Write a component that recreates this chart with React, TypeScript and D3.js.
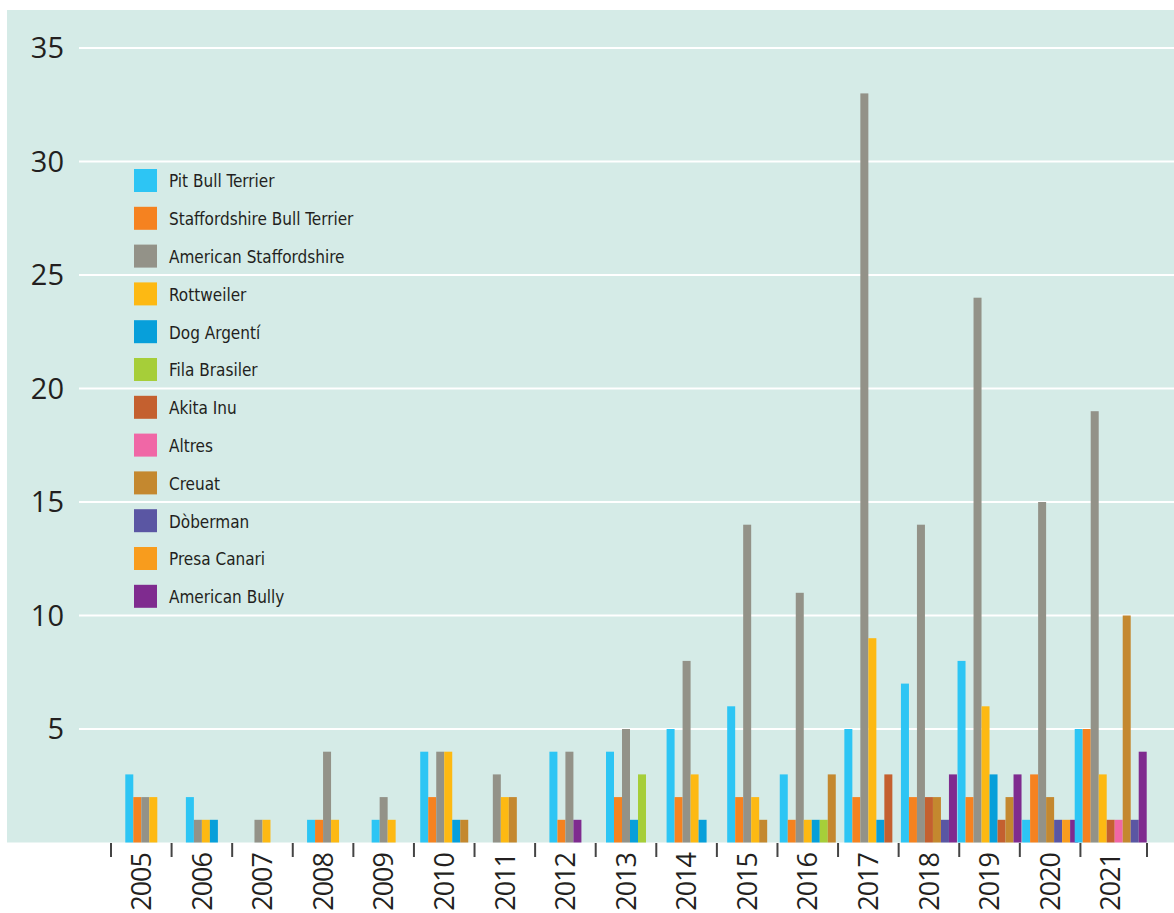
import { useEffect, useRef } from 'react';
import * as d3 from 'd3';

// Years on the x axis
const years = ['2005', '2006', '2007', '2008', '2009', '2010', '2011', '2012', '2013',
    '2014', '2015', '2016', '2017', '2018', '2019', '2020', '2021'];

const breeds = ['Pit Bull Terrier', 'Staffordshire Bull Terrier', 'American Staffordshire',
    'Rottweiler', 'Dog Argentí', 'Fila Brasiler', 'Akita Inu', 'Altres', 'Creuat',
    'Dòberman', 'Presa Canari', 'American Bully'];

const breedColors = ['#2dc5f4', '#f58220', '#939288', '#fdb913', '#079fda', '#a6ce39',
    '#c4602f', '#f067a6', '#c4882f', '#5a56a3', '#f89c1d', '#7f2b8f'];

// one array per breed, one value per year
const pitBull = [3, 2, 0, 1, 1, 4, 0, 4, 4, 5, 6, 3, 5, 7, 8, 1, 5];
const staffordshire = [2, 0, 0, 1, 0, 2, 0, 1, 2, 2, 2, 1, 2, 2, 2, 3, 5];
const amStaff = [2, 1, 1, 4, 2, 4, 3, 4, 5, 8, 14, 11, 33, 14, 24, 15, 19];
const rottweiler = [2, 1, 1, 1, 1, 4, 2, 0, 0, 3, 2, 1, 9, 0, 6, 0, 3];
const dogArgenti = [0, 1, 0, 0, 0, 1, 0, 0, 1, 1, 0, 1, 1, 0, 3, 0, 0];
const filaBrasiler = [0, 0, 0, 0, 0, 0, 0, 0, 3, 0, 0, 1, 0, 0, 0, 0, 0];
const akitaInu = [0, 0, 0, 0, 0, 0, 0, 0, 0, 0, 0, 0, 3, 2, 1, 0, 1];
const altres = [0, 0, 0, 0, 0, 0, 0, 0, 0, 0, 0, 0, 0, 0, 0, 0, 1];
const creuat = [0, 0, 0, 0, 0, 1, 2, 0, 0, 0, 1, 3, 0, 2, 2, 2, 10];
const doberman = [0, 0, 0, 0, 0, 0, 0, 0, 0, 0, 0, 0, 0, 1, 0, 1, 1];
const presaCanari = [0, 0, 0, 0, 0, 0, 0, 0, 0, 0, 0, 0, 0, 0, 0, 1, 0];
const americanBully = [0, 0, 0, 0, 0, 0, 0, 1, 0, 0, 0, 0, 0, 3, 3, 1, 4];

const series = [pitBull, staffordshire, amStaff, rottweiler, dogArgenti, filaBrasiler,
    akitaInu, altres, creuat, doberman, presaCanari, americanBully];

const yTicks = [5, 10, 15, 20, 25, 30, 35];

export default function App() {
    let ref = useRef<SVGSVGElement>(null);

    useEffect(() => {
        const svg = d3.select(ref.current);
        svg.selectAll('*').remove();

        const width = 1174;
        const barWidth = 8;
        const labelFont = '"Open Sans", "Noto Sans", sans-serif';
        const legendFont = '"Liberation Sans Narrow", "DejaVu Sans Condensed", sans-serif';

        // background panel
        svg.append('rect')
            .attr('x', 7).attr('y', 10)
            .attr('width', width - 7).attr('height', 842.5 - 10)
            .attr('fill', '#d5ebe7');

        const y = d3.scaleLinear().domain([0, 35]).range([842.5, 48]);
        const x = d3.scaleBand().domain(years).range([111, 1141]).padding(0);

        // grid lines + y labels
        svg.append('g')
            .selectAll('line')
            .data(yTicks)
            .join('line')
            .attr('x1', 79).attr('x2', width)
            .attr('y1', d => y(d)).attr('y2', d => y(d))
            .attr('stroke', '#ffffff')
            .attr('stroke-width', 2);

        svg.append('g')
            .selectAll('text')
            .data(yTicks)
            .join('text')
            .attr('x', 64)
            .attr('y', d => y(d))
            .attr('dy', '0.36em')
            .attr('text-anchor', 'end')
            .attr('font-family', labelFont)
            .attr('font-size', 29)
            .attr('fill', '#231f20')
            .text(d => d);

        // bars: only non-zero breeds drawn, packed and centred in each year slot
        const groups = svg.append('g')
            .selectAll('g')
            .data(years)
            .join('g')
            .attr('transform', d => `translate(${x(d)! + x.bandwidth() / 2}, 0)`);

        groups.each(function (yr, i) {
            const items = series
                .map((s, k) => ({ value: s[i], color: breedColors[k] }))
                .filter(d => d.value > 0);
            const start = -items.length * barWidth / 2;
            d3.select(this)
                .selectAll('rect')
                .data(items)
                .join('rect')
                .attr('x', (d, j) => start + j * barWidth)
                .attr('y', d => y(d.value))
                .attr('width', barWidth)
                .attr('height', d => y(0) - y(d.value))
                .attr('fill', d => d.color);
        });

        // x ticks (slot boundaries)
        const bounds = years.map(d => x(d)!).concat([x.range()[1] + 6]);
        svg.append('g')
            .selectAll('line')
            .data(bounds)
            .join('line')
            .attr('x1', d => d).attr('x2', d => d)
            .attr('y1', 843).attr('y2', 857)
            .attr('stroke', '#444444')
            .attr('stroke-width', 2);

        svg.append('g')
            .selectAll('text')
            .data(years)
            .join('text')
            .attr('transform', d => `translate(${x(d)! + x.bandwidth() / 2}, 853) rotate(-90)`)
            .attr('dy', '0.36em')
            .attr('text-anchor', 'end')
            .attr('font-family', labelFont)
            .attr('font-size', 27)
            .attr('letter-spacing', -1)
            .attr('fill', '#231f20')
            .text(d => d);

        // legend
        const legend = svg.append('g')
            .selectAll('g')
            .data(breeds)
            .join('g')
            .attr('transform', (d, i) => `translate(134, ${169 + i * 37.8})`);

        legend.append('rect')
            .attr('width', 23).attr('height', 23)
            .attr('fill', (d, i) => breedColors[i]);

        legend.append('text')
            .attr('x', 35).attr('y', 12.5)
            .attr('dy', '0.35em')
            .attr('font-family', legendFont)
            .attr('font-size', 17)
            .attr('fill', '#231f20')
            .text(d => d);
    }, []);

    return <svg ref={ref} width={1174} height={913}
        style={{ position: 'absolute', left: 0, top: 0, display: 'block', background: '#ffffff' }}></svg>
}
